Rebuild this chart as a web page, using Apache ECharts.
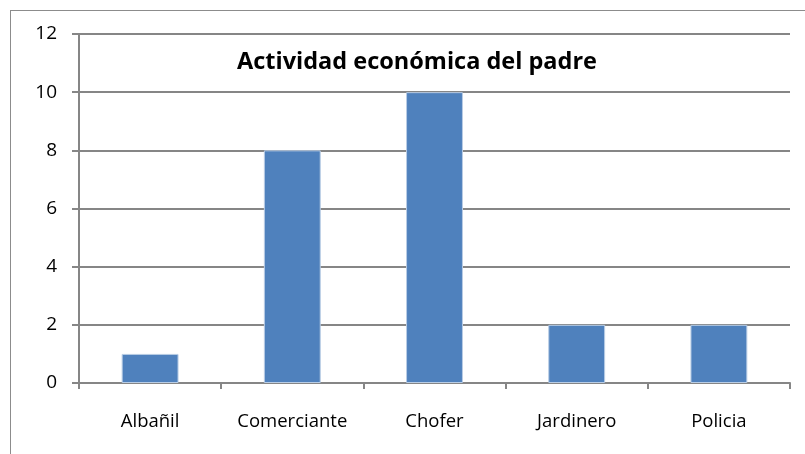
<!DOCTYPE html>
<html>
<head>
<meta charset="utf-8">
<script src="https://cdn.jsdelivr.net/npm/echarts@6/dist/echarts.min.js"></script>
<style>
  html, body { margin: 0; padding: 0; background: #fff; overflow: hidden; }
  #frame { position: absolute; left: 10px; top: 10px; width: 820px; height: 480px; border: 1px solid #8c8c8c; }
  #chart { position: absolute; left: 0; top: 0; width: 805px; height: 454px; }
</style>
</head>
<body>
<div id="frame"></div>
<div id="chart"></div>
<script>
// datos del grafico
var categorias = ['Albañil', 'Comerciante', 'Chofer', 'Jardinero', 'Policia'];
var valores = [1, 8, 10, 2, 2];
var titulo = 'Actividad económica del padre';

var myChart = echarts.init(document.getElementById('chart'));
var option = {
    animation: false,
    title: {
        text: titulo,
        left: 412,
        top: 45,
        textAlign: 'center',
        textStyle: { fontFamily: 'Open Sans', fontWeight: 'bold', fontSize: 23.5, color: '#000' }
    },
    grid: { left: 79, right: 15, top: 34, bottom: 71 },
    xAxis: {
        type: 'category',
        data: categorias,
        axisLine: { lineStyle: { color: '#868686', width: 2 } },
        axisTick: { show: true, length: 6, lineStyle: { color: '#868686', width: 2 } },
        axisLabel: { interval: 0, hideOverlap: false, margin: 29, fontFamily: 'Open Sans', fontSize: 18.5, color: '#000' }
    },
    yAxis: {
        type: 'value',
        min: 0,
        max: 12,
        interval: 2,
        axisLine: { show: true, lineStyle: { color: '#868686', width: 2 } },
        axisTick: { show: true, length: 7, lineStyle: { color: '#868686', width: 2 } },
        splitLine: { lineStyle: { color: '#868686', width: 2 } },
        axisLabel: { margin: 22, fontFamily: 'Open Sans', fontSize: 19, color: '#000' }
    },
    series: [{
        type: 'bar',
        data: valores,
        barWidth: '40%',
        itemStyle: { color: '#4F81BD', borderColor: '#b9cde5', borderWidth: 1 }
    }]
};
myChart.setOption(option);
</script>
</body>
</html>
